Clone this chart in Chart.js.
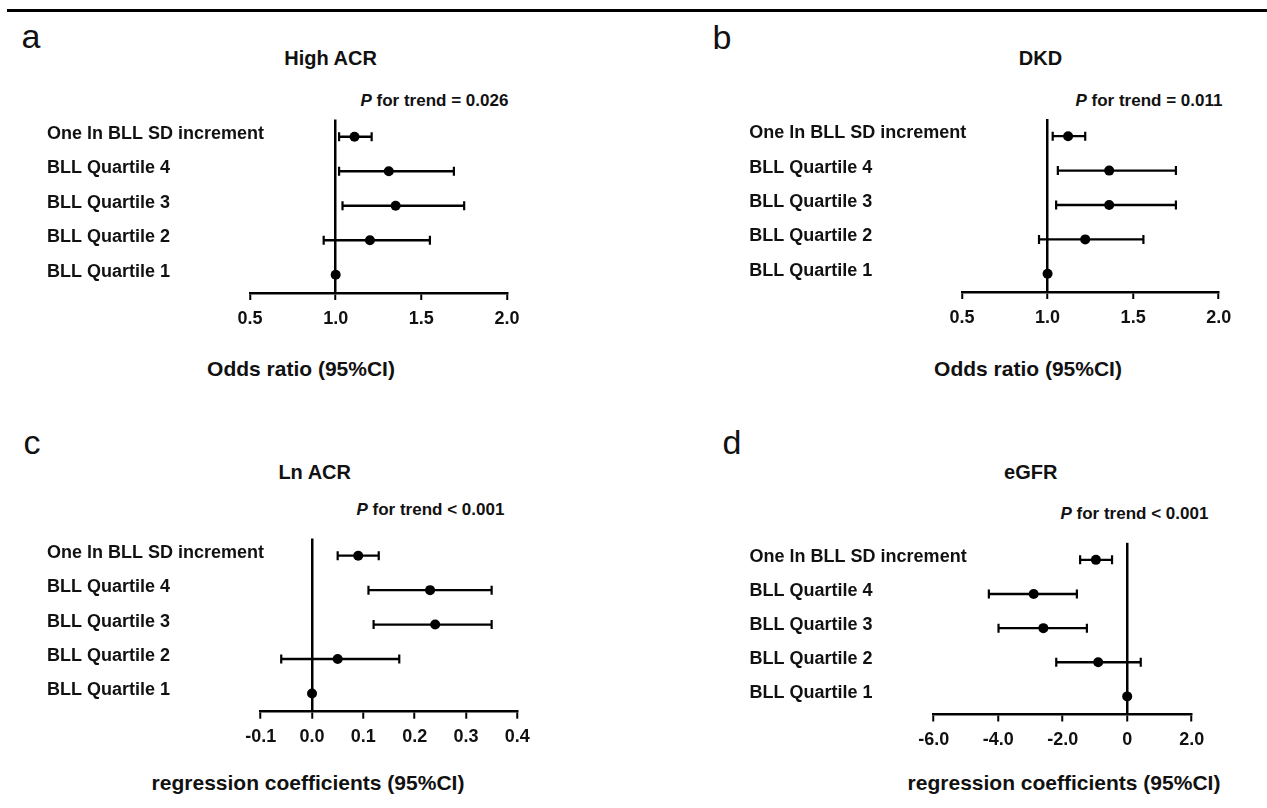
<!DOCTYPE html>
<html>
<head>
<meta charset="utf-8">
<title>BLL forest plots</title>
<script src="https://cdn.jsdelivr.net/npm/chart.js@4.4.0/dist/chart.umd.min.js"></script>
<style>
  body { margin: 0; width: 1267px; height: 808px; background: #fff; position: relative; overflow: hidden;
         font-family: "Liberation Sans", Arial, sans-serif; color: #111; }
  .rule { position: absolute; left: 7px; top: 9px; width: 1260px; height: 3px; background: #000; }
  .txt { position: absolute; white-space: nowrap; line-height: 1; }
  .letter { font-size: 34px; }
  .title { font-size: 20px; font-weight: bold; transform: translateX(-50%); }
  .ptrend { font-size: 17px; font-weight: bold; }
  .axtitle { font-size: 21px; font-weight: bold; transform: translateX(-50%); }
  canvas { position: absolute; }
</style>
</head>
<body>
<div class="rule"></div>

<div class="txt letter" style="left:21.5px; top:18.5px;">a</div>
<div class="txt title" style="left:330.6px; top:48px;">High ACR</div>
<div class="txt ptrend" style="left:360.5px; top:91.6px;"><i>P</i> for trend = 0.026</div>
<div class="txt axtitle" style="left:301px; top:358.2px;">Odds ratio (95%CI)</div>

<div class="txt letter" style="left:712.5px; top:19.5px;">b</div>
<div class="txt title" style="left:1040.5px; top:48px;">DKD</div>
<div class="txt ptrend" style="left:1075.5px; top:91.6px;"><i>P</i> for trend = 0.011</div>
<div class="txt axtitle" style="left:1028px; top:358.2px;">Odds ratio (95%CI)</div>

<div class="txt letter" style="left:23.5px; top:424.5px;">c</div>
<div class="txt title" style="left:314.7px; top:461.5px;">Ln ACR</div>
<div class="txt ptrend" style="left:356.5px; top:500.6px;"><i>P</i> for trend &lt; 0.001</div>
<div class="txt axtitle" style="left:308px; top:772.2px;">regression coefficients (95%CI)</div>

<div class="txt letter" style="left:722.5px; top:424.5px;">d</div>
<div class="txt title" style="left:1030.7px; top:461.5px;">eGFR</div>
<div class="txt ptrend" style="left:1060.5px; top:504.6px;"><i>P</i> for trend &lt; 0.001</div>
<div class="txt axtitle" style="left:1064px; top:772.2px;">regression coefficients (95%CI)</div>

<canvas id="chartA"></canvas>
<canvas id="chartB"></canvas>
<canvas id="chartC"></canvas>
<canvas id="chartD"></canvas>

<script>
// rows, top to bottom
const rowLabels = ["One ln BLL SD increment", "BLL Quartile 4", "BLL Quartile 3", "BLL Quartile 2", "BLL Quartile 1"];

// a: High ACR, odds ratios
const estA = [1.11, 1.31, 1.35, 1.20, 1.00];
const loA = [1.02, 1.02, 1.04, 0.93, null];
const hiA = [1.21, 1.69, 1.75, 1.55, null];
const ticksA = [0.5, 1.0, 1.5, 2.0];
const tickLabelsA = ["0.5", "1.0", "1.5", "2.0"];

// b: DKD, odds ratios
const estB = [1.12, 1.36, 1.36, 1.22, 1.00];
const loB = [1.03, 1.06, 1.05, 0.95, null];
const hiB = [1.22, 1.75, 1.75, 1.56, null];
const ticksB = [0.5, 1.0, 1.5, 2.0];
const tickLabelsB = ["0.5", "1.0", "1.5", "2.0"];

// c: Ln ACR, regression coefficients
const estC = [0.09, 0.23, 0.24, 0.05, 0];
const loC = [0.05, 0.11, 0.12, -0.06, null];
const hiC = [0.13, 0.35, 0.35, 0.17, null];
const ticksC = [-0.1, 0.0, 0.1, 0.2, 0.3, 0.4];
const tickLabelsC = ["-0.1", "0.0", "0.1", "0.2", "0.3", "0.4"];

// d: eGFR, regression coefficients
const estD = [-0.97, -2.90, -2.60, -0.90, 0];
const loD = [-1.46, -4.29, -3.99, -2.20, null];
const hiD = [-0.47, -1.56, -1.25, 0.42, null];
const ticksD = [-6, -4, -2, 0, 2];
const tickLabelsD = ["-6.0", "-4.0", "-2.0", "0", "2.0"];

// reference (null effect) line for each panel
const refA = 1, refB = 1, refC = 0, refD = 0;

Chart.defaults.font.family = '"Liberation Sans", Arial, sans-serif';

function drawPanel(id, frame, est, lo, hi, ticks, tickLabels, ref) {
  const canvas = document.getElementById(id);
  const xH = 44;
  const cl = Math.floor(frame.labelLeft) - 4;
  const ct = Math.floor(frame.plotTop) - 20;
  const cw = Math.ceil(frame.plotRight + 26 - cl);
  const ch = Math.ceil(frame.plotBottom + xH + 2 - ct);
  canvas.width = cw;
  canvas.height = ch;
  canvas.style.left = cl + "px";
  canvas.style.top = ct + "px";

  const n = rowLabels.length;
  const rowY = i => n - 1 - i;
  const yWidth = frame.plotLeft - frame.labelLeft;

  const datasets = [];
  // confidence intervals, capped with vertical line markers
  est.forEach((v, i) => {
    if (lo[i] == null) return;
    datasets.push({
      data: [{ x: lo[i], y: rowY(i) }, { x: hi[i], y: rowY(i) }],
      showLine: true,
      borderColor: "#000",
      borderWidth: 2.3,
      pointStyle: "line",
      pointRotation: 90,
      pointRadius: 4.5,
      pointBorderWidth: 2.2,
      pointBorderColor: "#000"
    });
  });
  // point estimates
  datasets.push({
    data: est.map((v, i) => ({ x: v, y: rowY(i) })),
    showLine: false,
    pointRadius: 5,
    pointBackgroundColor: "#000",
    pointBorderColor: "#000",
    pointBorderWidth: 0
  });

  new Chart(canvas, {
    type: "scatter",
    data: { datasets },
    options: {
      responsive: false,
      animation: false,
      events: [],
      layout: {
        padding: {
          left: frame.labelLeft - cl,
          top: frame.plotTop - ct,
          right: cl + cw - frame.plotRight,
          bottom: ct + ch - frame.plotBottom - xH
        }
      },
      plugins: { legend: { display: false }, tooltip: { enabled: false } },
      scales: {
        x: {
          type: "linear",
          min: ticks[0],
          max: ticks[ticks.length - 1],
          afterBuildTicks: s => { s.ticks = ticks.map(v => ({ value: v })); },
          afterFit: s => { s.height = xH; },
          grid: {
            color: c => (c.tick && Math.abs(c.tick.value - ref) < 1e-9) ? "#000" : "rgba(0,0,0,0)",
            lineWidth: 2.5,
            tickColor: "#000",
            tickLength: 7,
            tickWidth: 2
          },
          border: { display: true, color: "#000", width: 2.5 },
          ticks: {
            padding: 8,
            color: "#111",
            maxRotation: 0,
            autoSkip: false,
            font: { size: 18, weight: "bold" },
            callback: (v, i) => tickLabels[i]
          }
        },
        y: {
          type: "linear",
          min: -0.53,
          max: 4.5,
          afterBuildTicks: s => { s.ticks = rowLabels.map((_, i) => ({ value: rowY(i) })); },
          afterFit: s => { s.width = yWidth; },
          grid: { display: false, drawTicks: false },
          border: { display: false },
          // mirrored labels are not clipped to the axis box, so long labels can run past it
          ticks: {
            mirror: true,
            crossAlign: "near",
            padding: -yWidth,
            labelOffset: -3,
            color: "#111",
            autoSkip: false,
            font: { size: 18, weight: "bold" },
            callback: v => rowLabels[n - 1 - v]
          }
        }
      }
    }
  });
}

drawPanel("chartA", { labelLeft: 47, plotLeft: 250, plotRight: 507, plotTop: 119.5, plotBottom: 293 },
  estA, loA, hiA, ticksA, tickLabelsA, refA);
drawPanel("chartB", { labelLeft: 749.3, plotLeft: 962, plotRight: 1218.7, plotTop: 119, plotBottom: 292 },
  estB, loB, hiB, ticksB, tickLabelsB, refB);
drawPanel("chartC", { labelLeft: 47, plotLeft: 260.7, plotRight: 517.3, plotTop: 538.5, plotBottom: 711.7 },
  estC, loC, hiC, ticksC, tickLabelsC, refC);
drawPanel("chartD", { labelLeft: 749.6, plotLeft: 933.7, plotRight: 1191.7, plotTop: 542.8, plotBottom: 714.5 },
  estD, loD, hiD, ticksD, tickLabelsD, refD);
</script>
</body>
</html>
